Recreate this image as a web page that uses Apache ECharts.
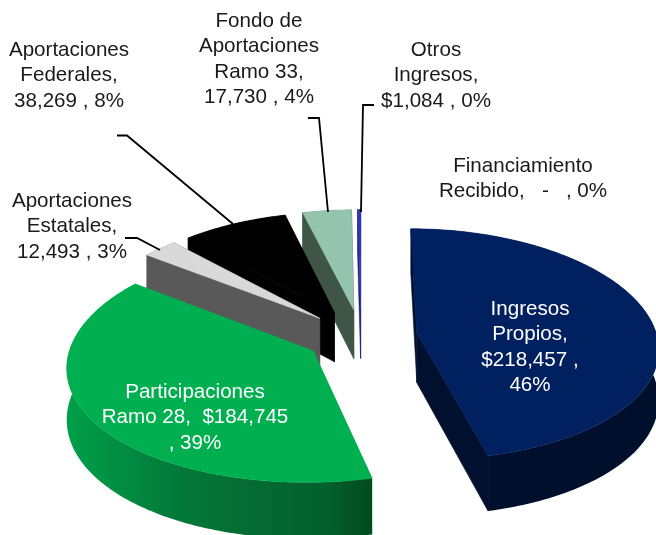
<!DOCTYPE html>
<html><head><meta charset="utf-8">
<style>html,body{margin:0;padding:0;background:#fff}#c{width:656px;height:535px}</style>
<script src="https://cdn.jsdelivr.net/npm/echarts@6/dist/echarts.min.js"></script>
</head><body><div id="c"></div>
<script>
// Data
const categories = ['Ingresos Propios','Participaciones Ramo 28','Aportaciones Estatales','Aportaciones Federales','Fondo de Aportaciones Ramo 33','Otros Ingresos','Financiamiento Recibido'];
const values = [218457,184745,12493,38269,17730,1084,0];
const labelLines = [
 ['Ingresos','Propios,','$218,457 ,','46%'],
 ['Participaciones','Ramo 28,  $184,745',', 39%'],
 ['Aportaciones','Estatales,','12,493 , 3%'],
 ['Aportaciones','Federales,','38,269 , 8%'],
 ['Fondo de','Aportaciones','Ramo 33,','17,730 , 4%'],
 ['Otros','Ingresos,','$1,084 , 0%'],
 ['Financiamiento','Recibido,   -   , 0%']
];
// Style / layout
const topColors = ['#002060','#00B050','#D9D9D9','#000000','#95C4AE','#3238B4','#888888'];
const sideColors = ['#00102E','#00B050','#595959','#000000','#3F5546','#1E2270','#888888'];
const rimStops = [
 [[0,'#000F2C'],[1,'#000F2C']],
 [[0,'#00A04A'],[0.35,'#037A3A'],[0.62,'#046A33'],[0.85,'#03602C'],[1,'#024A1E']],
 [[0,'#595959'],[1,'#595959']],
 [[0,'#000'],[1,'#000']],
 [[0,'#3F5546'],[1,'#3F5546']],
 [[0,'#1E2270'],[1,'#1E2270']],
 [[0,'#888'],[1,'#888']]
];
const paintOrder = [4,5,3,2,1,0,6]; // z per slice: front slices above back ones
const labelColors = ['#fff','#fff','#1a1a1a','#1a1a1a','#1a1a1a','#1a1a1a','#1a1a1a'];
const labelCenters = [[530,309],[195,392],[72,201],[69,50],[259,21],[436,50],[523,166]];
const lineGap = 25.6;
const leaders = [null,null,
 [[125,238],[137,238],[160,250]],
 [[117,135.5],[127,135.5],[233,224]],
 [[308,118],[319,118],[328,212]],
 [[374,105],[363,105],[361,212]],
 null];
const view = {cx:361, cy:336, K:240, Ke:115, P:0.10, Px:0.12, explode:0.235, depth:50};

const total = values.reduce((a,b)=>a+b,0);
const rad = d=>d*Math.PI/180;
function project(a,b){
  return [view.cx + view.K*a/(1 + view.Px*b), view.cy - view.Ke*b/(1 + view.P*b)];
}
function drop(a,b){ return view.depth/(1 + view.P*b); }

function renderSlice(params, api){
  const i = params.dataIndex;
  const v = api.value(0);
  let before = 0;
  for(let k=0;k<i;k++) before += values[k];
  const t0 = before/total*360, t1 = (before+v)/total*360, tm=(t0+t1)/2;
  const ox = view.explode*Math.sin(rad(tm)), oy = view.explode*Math.cos(rad(tm));
  const children = [];
  const z = 10+paintOrder[i]*5;
  if(v>0){
    const rimTop=[], rimBot=[];
    const n = Math.max(2,Math.ceil((t1-t0)));
    for(let s=0;s<=n;s++){
      const t = rad(t0+(t1-t0)*s/n);
      const a = ox+Math.sin(t), b = oy+Math.cos(t);
      const p = project(a,b);
      rimTop.push(p);
      rimBot.push([p[0],p[1]+drop(a,b)]);
    }
    const ap = project(ox,oy), apB=[ap[0],ap[1]+drop(ox,oy)];
    const xs = rimTop.map(p=>p[0]);
    const xmin=Math.min(...xs), xmax=Math.max(...xs);
    const sid = sideColors[i];
    // radial side faces
    [[rimTop[0],rimBot[0]],[rimTop[n],rimBot[n]]].forEach(([pt,pb])=>{
      children.push({type:'polygon',z2:z,shape:{points:[ap,pt,pb,apB]},style:{fill:sid,stroke:sid,lineWidth:0.6},silent:true});
    });
    // outer rim
    children.push({type:'polygon',z2:z+1,shape:{points:rimTop.concat(rimBot.slice().reverse())},
      style:{fill:new echarts.graphic.LinearGradient(xmin,0,Math.max(xmax,xmin+1),0,
        rimStops[i].map(([o,c])=>({offset:o,color:c})),true)},silent:true});
    // top face
    children.push({type:'polygon',z2:z+2,shape:{points:[ap].concat(rimTop)},
      style:{fill:topColors[i],stroke:topColors[i],lineWidth:0.6},silent:true});
  }
  const lc = labelCenters[i];
  labelLines[i].forEach((t,j)=>{
    children.push({type:'text',z2:100,silent:true,
      style:{x:lc[0],y:lc[1]+j*lineGap,text:t,fill:labelColors[i],align:'center',verticalAlign:'middle',
        font:'20.6px "Liberation Sans", Arial, sans-serif'}});
  });
  if(leaders[i]){
    children.push({type:'polyline',z2:90,silent:true,shape:{points:leaders[i]},style:{stroke:'#000',lineWidth:1.8,fill:null}});
  }
  return {type:'group',children};
}

const chart = echarts.init(document.getElementById('c'));
chart.setOption({
  animation:false,
  backgroundColor:'#ffffff',
  series:[{type:'custom',coordinateSystem:'none',renderItem:renderSlice,
    data:values.map((v,i)=>({name:categories[i],value:[v]}))}]
});
</script></body></html>
